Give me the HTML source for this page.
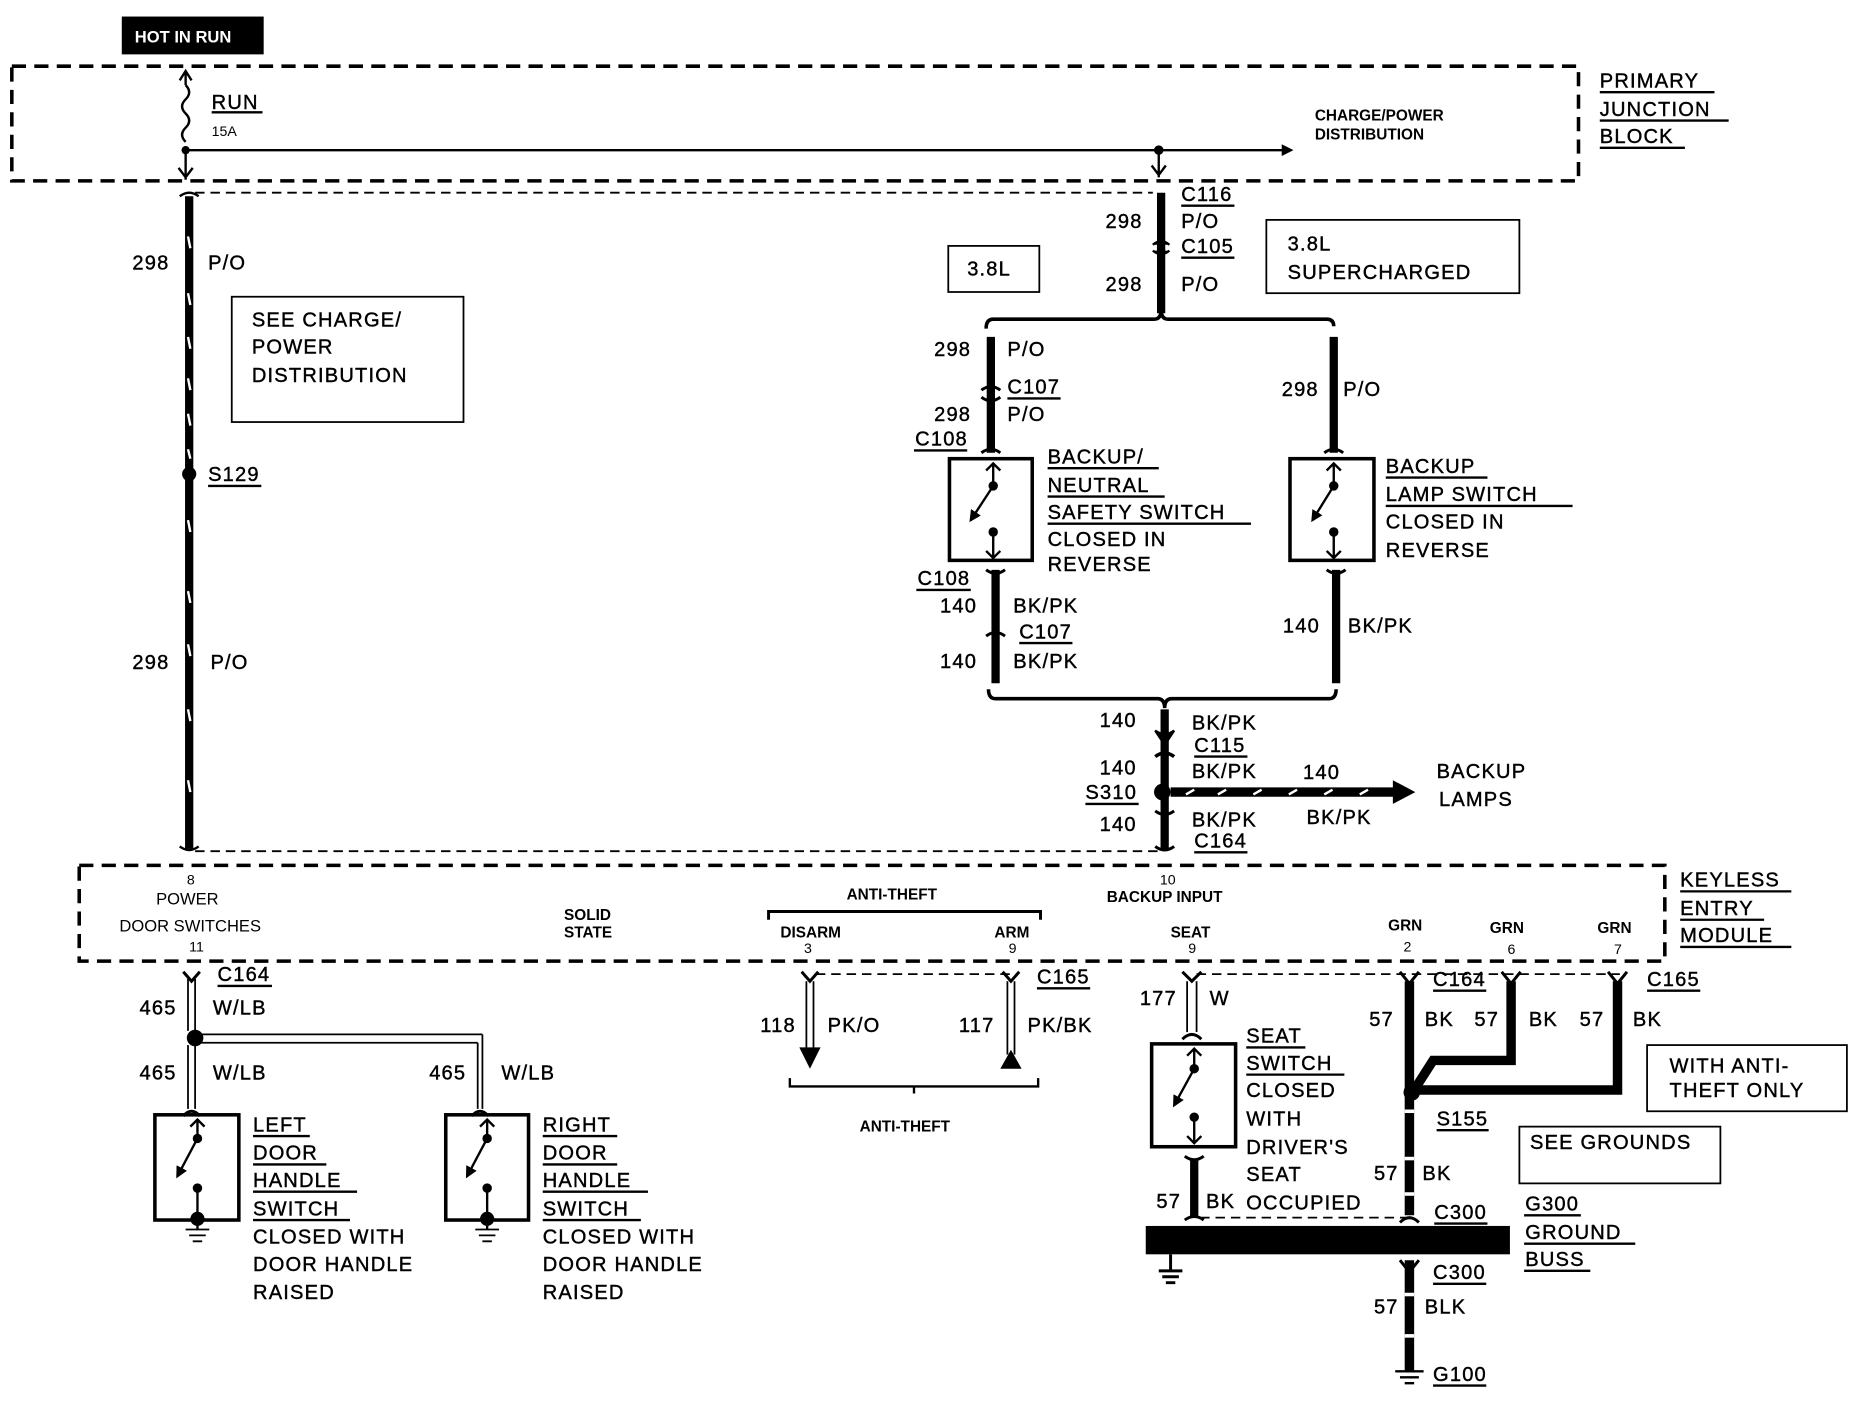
<!DOCTYPE html>
<html><head><meta charset="utf-8"><style>
html,body{margin:0;padding:0;background:#fff;}
svg{display:block;}
text{font-family:"Liberation Sans",sans-serif;fill:#000;}
.t{font-size:17px;letter-spacing:1px;stroke:#000;stroke-width:0.35px;}
.s{font-size:13px;font-weight:bold;}
</style></head><body>
<svg width="1854" height="1408" viewBox="0 0 1568 1191" preserveAspectRatio="none" xmlns="http://www.w3.org/2000/svg">
<defs>
<marker id="ah" markerWidth="10" markerHeight="10" refX="8" refY="5" orient="auto" markerUnits="userSpaceOnUse"><path d="M0,0 L10,5 L0,10 z" fill="#000"/></marker>
</defs>
<rect width="1568" height="1191" fill="#fff"/>
<rect x="103" y="14" width="120" height="32" fill="#000"/>
<text x="114" y="36" style="font-size:14px;fill:#fff" font-weight="bold">HOT IN RUN</text>
<rect x="10" y="56" width="1325" height="97" fill="none" stroke="#000" stroke-width="3" stroke-dasharray="12,7"/>
<path d="M157,62 V72 M152,68 L157,60 L162,68" stroke="#000" stroke-width="2" fill="none"/>
<path d="M157,72 q6,6 0,12 q-6,6 0,12 q6,6 0,12 q-6,6 0,12" stroke="#000" stroke-width="2" fill="none"/>
<circle cx="157" cy="127" r="3.5"/>
<path d="M157,127 V152 M151,142 L157,150 L163,142" stroke="#000" stroke-width="2" fill="none"/>
<line x1="157" y1="127" x2="1092" y2="127" stroke="#000" stroke-width="2" marker-end="url(#ah)"/>
<circle cx="980" cy="127" r="4"/>
<path d="M980,127 V150 M974,140 L980,148 L986,140" stroke="#000" stroke-width="2" fill="none"/>
<text x="179" y="92" class="t">RUN</text><line x1="179" y1="95" x2="222" y2="95" stroke="#000" stroke-width="2"/>
<text x="179" y="115" style="font-size:12px">15A</text>
<text x="1112" y="102" class="s">CHARGE/POWER</text>
<text x="1112" y="118" class="s">DISTRIBUTION</text>
<text x="1353" y="74" class="t">PRIMARY</text><line x1="1353" y1="78" x2="1450" y2="78" stroke="#000" stroke-width="2"/>
<text x="1353" y="98" class="t">JUNCTION</text><line x1="1353" y1="102" x2="1462" y2="102" stroke="#000" stroke-width="2"/>
<text x="1353" y="121" class="t">BLOCK</text><line x1="1353" y1="125" x2="1425" y2="125" stroke="#000" stroke-width="2"/>
<line x1="165" y1="163" x2="975" y2="163" stroke="#000" stroke-width="1.5" stroke-dasharray="8,5"/>
<line x1="165" y1="720" x2="980" y2="720" stroke="#000" stroke-width="1.5" stroke-dasharray="8,5"/>
<line x1="160" y1="166" x2="160" y2="718" stroke="#000" stroke-width="7"/>
<g stroke="#fff" stroke-width="2">
<line x1="159" y1="200" x2="161" y2="210"/><line x1="159" y1="248" x2="161" y2="258"/><line x1="159" y1="285" x2="161" y2="295"/><line x1="159" y1="320" x2="161" y2="330"/><line x1="159" y1="350" x2="161" y2="360"/><line x1="159" y1="380" x2="161" y2="388"/>
<line x1="159" y1="440" x2="161" y2="450"/><line x1="159" y1="500" x2="161" y2="510"/><line x1="159" y1="545" x2="161" y2="555"/><line x1="159" y1="600" x2="161" y2="610"/><line x1="159" y1="660" x2="161" y2="670"/>
</g>
<circle cx="160" cy="401" r="6"/>
<path d="M152,166 q8,-6 16,0 M152,716 q8,6 16,0" stroke="#000" stroke-width="2" fill="none"/>
<text x="112" y="228" class="t">298</text><text x="176" y="228" class="t">P/O</text>
<text x="112" y="566" class="t">298</text><text x="178" y="566" class="t">P/O</text>
<text x="176" y="407" class="t">S129</text><line x1="176" y1="411" x2="221" y2="411" stroke="#000" stroke-width="2"/>
<rect x="196" y="251" width="196" height="106" fill="none" stroke="#000" stroke-width="1.5"/>
<text x="213" y="276" class="t">SEE CHARGE/</text>
<text x="213" y="299" class="t">POWER</text>
<text x="213" y="323" class="t">DISTRIBUTION</text>
<line x1="982" y1="163" x2="982" y2="265" stroke="#000" stroke-width="7"/>
<path d="M975,207 q7,-6 14,0 M975,212 q7,6 14,0" stroke="#000" stroke-width="2" fill="#000"/>
<text x="999" y="170" class="t">C116</text><line x1="999" y1="174" x2="1044" y2="174" stroke="#000" stroke-width="2"/>
<text x="935" y="193" class="t">298</text><text x="999" y="193" class="t">P/O</text>
<text x="999" y="214" class="t">C105</text><line x1="999" y1="218" x2="1044" y2="218" stroke="#000" stroke-width="2"/>
<text x="935" y="246" class="t">298</text><text x="999" y="246" class="t">P/O</text>
<rect x="802" y="208" width="77" height="39" fill="none" stroke="#000" stroke-width="1.5"/>
<text x="818" y="233" class="t">3.8L</text>
<rect x="1071" y="186" width="214" height="62" fill="none" stroke="#000" stroke-width="1.5"/>
<text x="1089" y="212" class="t">3.8L</text>
<text x="1089" y="236" class="t">SUPERCHARGED</text>
<path d="M834,278 q0,-8 6,-8 H976 q6,0 6,-8 q0,8 6,8 H1122 q6,0 6,6" stroke="#000" stroke-width="3" fill="none"/>
<line x1="838" y1="285" x2="838" y2="383" stroke="#000" stroke-width="7"/>
<path d="M830,330 q8,-6 16,0 M830,336 q8,6 16,0 M830,383 q8,-6 16,0" stroke="#000" stroke-width="2.5" fill="none"/>
<text x="790" y="301" class="t">298</text><text x="852" y="301" class="t">P/O</text>
<text x="852" y="333" class="t">C107</text><line x1="852" y1="337" x2="897" y2="337" stroke="#000" stroke-width="2"/>
<text x="790" y="356" class="t">298</text><text x="852" y="356" class="t">P/O</text>
<text x="774" y="377" class="t">C108</text><line x1="773" y1="381" x2="818" y2="381" stroke="#000" stroke-width="2"/>
<rect x="803" y="388" width="70" height="86" fill="none" stroke="#000" stroke-width="3"/>
<path d="M840,392 V410 M834,398 L840,392 L846,398" stroke="#000" stroke-width="2" fill="none"/>
<circle cx="840" cy="411" r="4"/><line x1="840" y1="411" x2="821" y2="440" stroke="#000" stroke-width="2" marker-end="url(#ah)"/>
<circle cx="840" cy="450" r="4"/><path d="M840,450 V472 M834,466 L840,472 L846,466" stroke="#000" stroke-width="2" fill="none"/>
<text x="886" y="392" class="t">BACKUP/</text><line x1="886" y1="396" x2="980" y2="396" stroke="#000" stroke-width="2"/>
<text x="886" y="416" class="t">NEUTRAL</text><line x1="886" y1="420" x2="985" y2="420" stroke="#000" stroke-width="2"/>
<text x="886" y="439" class="t">SAFETY SWITCH</text><line x1="886" y1="443" x2="1058" y2="443" stroke="#000" stroke-width="2"/>
<text x="886" y="462" class="t">CLOSED IN</text>
<text x="886" y="483" class="t">REVERSE</text>
<line x1="842" y1="482" x2="842" y2="578" stroke="#000" stroke-width="7"/>
<path d="M834,482 q8,6 16,0 M834,538 q8,-6 16,0" stroke="#000" stroke-width="2.5" fill="none"/>
<text x="776" y="495" class="t">C108</text><line x1="775" y1="499" x2="821" y2="499" stroke="#000" stroke-width="2"/>
<text x="795" y="518" class="t">140</text><text x="857" y="518" class="t">BK/PK</text>
<text x="862" y="540" class="t">C107</text><line x1="862" y1="544" x2="907" y2="544" stroke="#000" stroke-width="2"/>
<text x="795" y="565" class="t">140</text><text x="857" y="565" class="t">BK/PK</text>
<line x1="1128" y1="285" x2="1128" y2="383" stroke="#000" stroke-width="7"/>
<path d="M1120,383 q8,-6 16,0" stroke="#000" stroke-width="2.5" fill="none"/>
<text x="1084" y="335" class="t">298</text><text x="1136" y="335" class="t">P/O</text>
<rect x="1091" y="388" width="71" height="86" fill="none" stroke="#000" stroke-width="3"/>
<path d="M1128,392 V410 M1122,398 L1128,392 L1134,398" stroke="#000" stroke-width="2" fill="none"/>
<circle cx="1128" cy="411" r="4"/><line x1="1128" y1="411" x2="1110" y2="440" stroke="#000" stroke-width="2" marker-end="url(#ah)"/>
<circle cx="1128" cy="450" r="4"/><path d="M1128,450 V472 M1122,466 L1128,472 L1134,466" stroke="#000" stroke-width="2" fill="none"/>
<text x="1172" y="400" class="t">BACKUP</text><line x1="1172" y1="404" x2="1258" y2="404" stroke="#000" stroke-width="2"/>
<text x="1172" y="424" class="t">LAMP SWITCH</text><line x1="1172" y1="428" x2="1330" y2="428" stroke="#000" stroke-width="2"/>
<text x="1172" y="447" class="t">CLOSED IN</text>
<text x="1172" y="471" class="t">REVERSE</text>
<line x1="1130" y1="482" x2="1130" y2="578" stroke="#000" stroke-width="7"/>
<path d="M1122,482 q8,6 16,0" stroke="#000" stroke-width="2.5" fill="none"/>
<text x="1085" y="535" class="t">140</text><text x="1140" y="535" class="t">BK/PK</text>
<path d="M836,583 q0,8 6,8 H979 q6,0 6,8 q0,-8 6,-8 H1124 q6,0 6,-8" stroke="#000" stroke-width="3" fill="none"/>
<line x1="985" y1="600" x2="985" y2="718" stroke="#000" stroke-width="7"/>
<path d="M977,618 q8,6 16,0 L985,630 z" fill="#000" stroke="#000" stroke-width="2"/>
<path d="M977,640 q8,-6 16,0" stroke="#000" stroke-width="3" fill="none"/>
<path d="M977,686 q8,6 16,0 M977,716 q8,6 16,0" stroke="#000" stroke-width="2.5" fill="none"/>
<circle cx="983" cy="670" r="7"/>
<line x1="990" y1="670" x2="1180" y2="670" stroke="#000" stroke-width="8"/>
<g stroke="#fff" stroke-width="2"><line x1="1003" y1="672" x2="1010" y2="668"/><line x1="1030" y1="672" x2="1037" y2="668"/><line x1="1060" y1="672" x2="1067" y2="668"/><line x1="1090" y1="672" x2="1097" y2="668"/><line x1="1120" y1="672" x2="1127" y2="668"/><line x1="1150" y1="672" x2="1157" y2="668"/></g>
<path d="M1178,660 L1197,670 L1178,680 z" fill="#000"/>
<text x="930" y="615" class="t">140</text><text x="1008" y="617" class="t">BK/PK</text>
<text x="1010" y="636" class="t">C115</text><line x1="1010" y1="640" x2="1055" y2="640" stroke="#000" stroke-width="2"/>
<text x="930" y="655" class="t">140</text><text x="1008" y="658" class="t">BK/PK</text>
<text x="1102" y="659" class="t">140</text>
<text x="918" y="676" class="t">S310</text><line x1="918" y1="680" x2="963" y2="680" stroke="#000" stroke-width="2"/>
<text x="930" y="703" class="t">140</text><text x="1008" y="699" class="t">BK/PK</text><text x="1105" y="697" class="t">BK/PK</text>
<text x="1010" y="717" class="t">C164</text><line x1="1010" y1="721" x2="1055" y2="721" stroke="#000" stroke-width="2"/>
<text x="1215" y="658" class="t">BACKUP</text>
<text x="1217" y="682" class="t">LAMPS</text>
<rect x="67" y="732" width="1341" height="81" fill="none" stroke="#000" stroke-width="3" stroke-dasharray="12,7"/>
<text x="158" y="748" style="font-size:12px">8</text>
<text x="132" y="765" style="font-size:14px">POWER</text>
<text x="101" y="788" style="font-size:14px">DOOR SWITCHES</text>
<text x="160" y="805" style="font-size:12px">11</text>
<text x="477" y="778" class="s">SOLID</text>
<text x="477" y="793" class="s">STATE</text>
<text x="716" y="761" class="s">ANTI-THEFT</text>
<path d="M650,778 V771 H880 V778" stroke="#000" stroke-width="2.5" fill="none"/>
<text x="660" y="793" class="s">DISARM</text><text x="680" y="806" style="font-size:12px">3</text>
<text x="841" y="793" class="s">ARM</text><text x="853" y="806" style="font-size:12px">9</text>
<text x="981" y="748" style="font-size:12px">10</text>
<text x="936" y="763" class="s">BACKUP INPUT</text>
<text x="990" y="793" class="s">SEAT</text><text x="1005" y="806" style="font-size:12px">9</text>
<text x="1174" y="787" class="s">GRN</text><text x="1187" y="805" style="font-size:12px">2</text>
<text x="1260" y="789" class="s">GRN</text><text x="1275" y="807" style="font-size:12px">6</text>
<text x="1351" y="789" class="s">GRN</text><text x="1365" y="807" style="font-size:12px">7</text>
<text x="1421" y="750" class="t">KEYLESS</text><line x1="1421" y1="754" x2="1515" y2="754" stroke="#000" stroke-width="2"/>
<text x="1421" y="774" class="t">ENTRY</text><line x1="1421" y1="778" x2="1492" y2="778" stroke="#000" stroke-width="2"/>
<text x="1421" y="797" class="t">MODULE</text><line x1="1421" y1="801" x2="1515" y2="801" stroke="#000" stroke-width="2"/>
<line x1="690" y1="824" x2="860" y2="824" stroke="#000" stroke-width="1.5" stroke-dasharray="8,5"/>
<line x1="1012" y1="824" x2="1370" y2="824" stroke="#000" stroke-width="1.5" stroke-dasharray="8,5"/>
<line x1="1015" y1="1030" x2="1190" y2="1030" stroke="#000" stroke-width="1.5" stroke-dasharray="8,5"/>
<g stroke="#000" stroke-width="1.5" fill="none">
<line x1="159" y1="828" x2="159" y2="872"/><line x1="165" y1="828" x2="165" y2="872"/>
<line x1="159" y1="884" x2="159" y2="938"/><line x1="165" y1="884" x2="165" y2="938"/>
<line x1="166" y1="875" x2="408" y2="875"/><line x1="166" y1="882" x2="404" y2="882"/>
<line x1="408" y1="875" x2="408" y2="938"/><line x1="404" y1="882" x2="404" y2="938"/>
</g>
<path d="M155,822 L162,830 L169,822 M155,944 q7,-8 14,0 M399,944 q7,-8 14,0" stroke="#000" stroke-width="2.5" fill="none"/>
<circle cx="165" cy="878" r="7"/>
<text x="184" y="830" class="t">C164</text><line x1="184" y1="834" x2="230" y2="834" stroke="#000" stroke-width="2"/>
<text x="118" y="858" class="t">465</text><text x="180" y="858" class="t">W/LB</text>
<text x="118" y="913" class="t">465</text><text x="180" y="913" class="t">W/LB</text>
<text x="363" y="913" class="t">465</text><text x="424" y="913" class="t">W/LB</text>
<rect x="131" y="943" width="71" height="89" fill="none" stroke="#000" stroke-width="3"/>
<path d="M167,947 V962 M161,953 L167,947 L173,953" stroke="#000" stroke-width="2" fill="none"/>
<circle cx="167" cy="963" r="4"/><line x1="167" y1="963" x2="150" y2="995" stroke="#000" stroke-width="2" marker-end="url(#ah)"/>
<circle cx="167" cy="1005" r="4"/><line x1="167" y1="1005" x2="167" y2="1040" stroke="#000" stroke-width="2"/>
<circle cx="167" cy="1031" r="6"/>
<path d="M157,1040 H177 M160,1045 H174 M163,1050 H171" stroke="#000" stroke-width="1.5"/>
<text x="214" y="957" class="t">LEFT</text><line x1="214" y1="961" x2="262" y2="961" stroke="#000" stroke-width="2"/>
<text x="214" y="981" class="t">DOOR</text><line x1="214" y1="985" x2="276" y2="985" stroke="#000" stroke-width="2"/>
<text x="214" y="1004" class="t">HANDLE</text><line x1="214" y1="1008" x2="302" y2="1008" stroke="#000" stroke-width="2"/>
<text x="214" y="1028" class="t">SWITCH</text><line x1="214" y1="1032" x2="296" y2="1032" stroke="#000" stroke-width="2"/>
<text x="214" y="1052" class="t">CLOSED WITH</text>
<text x="214" y="1075" class="t">DOOR HANDLE</text>
<text x="214" y="1099" class="t">RAISED</text>
<rect x="377" y="943" width="70" height="89" fill="none" stroke="#000" stroke-width="3"/>
<path d="M412,947 V962 M406,953 L412,947 L418,953" stroke="#000" stroke-width="2" fill="none"/>
<circle cx="412" cy="963" r="4"/><line x1="412" y1="963" x2="395" y2="995" stroke="#000" stroke-width="2" marker-end="url(#ah)"/>
<circle cx="412" cy="1005" r="4"/><line x1="412" y1="1005" x2="412" y2="1040" stroke="#000" stroke-width="2"/>
<circle cx="412" cy="1031" r="6"/>
<path d="M402,1040 H422 M405,1045 H419 M408,1050 H416" stroke="#000" stroke-width="1.5"/>
<text x="459" y="957" class="t">RIGHT</text><line x1="459" y1="961" x2="522" y2="961" stroke="#000" stroke-width="2"/>
<text x="459" y="981" class="t">DOOR</text><line x1="459" y1="985" x2="522" y2="985" stroke="#000" stroke-width="2"/>
<text x="459" y="1004" class="t">HANDLE</text><line x1="459" y1="1008" x2="548" y2="1008" stroke="#000" stroke-width="2"/>
<text x="459" y="1028" class="t">SWITCH</text><line x1="459" y1="1032" x2="542" y2="1032" stroke="#000" stroke-width="2"/>
<text x="459" y="1052" class="t">CLOSED WITH</text>
<text x="459" y="1075" class="t">DOOR HANDLE</text>
<text x="459" y="1099" class="t">RAISED</text>
<g stroke="#000" stroke-width="1.5" fill="none">
<line x1="682" y1="830" x2="682" y2="888"/><line x1="688" y1="830" x2="688" y2="888"/>
<line x1="852" y1="830" x2="852" y2="892"/><line x1="858" y1="830" x2="858" y2="892"/>
</g>
<path d="M678,822 L685,830 L692,822 M848,822 L855,830 L862,822" stroke="#000" stroke-width="2.5" fill="none"/>
<path d="M676,886 L685,904 L694,886 z" fill="#000"/>
<path d="M846,904 L855,888 L864,904 z" fill="#000"/>
<text x="877" y="832" class="t">C165</text><line x1="877" y1="836" x2="922" y2="836" stroke="#000" stroke-width="2"/>
<text x="643" y="873" class="t">118</text><text x="700" y="873" class="t">PK/O</text>
<text x="811" y="873" class="t">117</text><text x="869" y="873" class="t">PK/BK</text>
<path d="M668,912 V919 H878 V912 M773,919 V925" stroke="#000" stroke-width="2" fill="none"/>
<text x="727" y="957" class="s">ANTI-THEFT</text>
<g stroke="#000" stroke-width="1.5" fill="none">
<line x1="1004" y1="830" x2="1004" y2="873"/><line x1="1012" y1="830" x2="1012" y2="873"/>
</g>
<path d="M1000,822 L1008,830 L1016,822 M1000,879 q8,-8 16,0" stroke="#000" stroke-width="2.5" fill="none"/>
<text x="964" y="850" class="t">177</text><text x="1023" y="850" class="t">W</text>
<rect x="974" y="883" width="71" height="87" fill="none" stroke="#000" stroke-width="3"/>
<path d="M1010,887 V902 M1004,893 L1010,887 L1016,893" stroke="#000" stroke-width="2" fill="none"/>
<circle cx="1010" cy="904" r="4"/><line x1="1010" y1="904" x2="993" y2="935" stroke="#000" stroke-width="2" marker-end="url(#ah)"/>
<circle cx="1010" cy="945" r="4"/><path d="M1010,945 V967 M1004,961 L1010,967 L1016,961" stroke="#000" stroke-width="2" fill="none"/>
<line x1="1010" y1="980" x2="1010" y2="1030" stroke="#000" stroke-width="7"/>
<path d="M1002,978 q8,6 16,0 M1002,1032 q8,-6 16,0" stroke="#000" stroke-width="2.5" fill="none"/>
<text x="1054" y="882" class="t">SEAT</text><line x1="1054" y1="886" x2="1104" y2="886" stroke="#000" stroke-width="2"/>
<text x="1054" y="905" class="t">SWITCH</text><line x1="1054" y1="909" x2="1137" y2="909" stroke="#000" stroke-width="2"/>
<text x="1054" y="928" class="t">CLOSED</text>
<text x="1054" y="952" class="t">WITH</text>
<text x="1054" y="976" class="t">DRIVER'S</text>
<text x="1054" y="999" class="t">SEAT</text>
<text x="1054" y="1023" class="t">OCCUPIED</text>
<text x="978" y="1022" class="t">57</text><text x="1020" y="1022" class="t">BK</text>
<g stroke="#000" stroke-width="8" fill="none">
<line x1="1192" y1="830" x2="1192" y2="1028"/>
<path d="M1278,830 V897 H1212 L1196,922"/>
<path d="M1368,830 V922 H1200"/>
</g>
<g stroke="#fff" stroke-width="3"><line x1="1188" y1="940" x2="1196" y2="940"/><line x1="1188" y1="980" x2="1196" y2="980"/><line x1="1188" y1="1010" x2="1196" y2="1010"/></g>
<path d="M1184,822 L1192,832 L1200,822 M1270,822 L1278,832 L1286,822 M1360,822 L1368,832 L1376,822 M1184,1034 q8,-8 16,0" stroke="#000" stroke-width="2.5" fill="none"/>
<circle cx="1194" cy="924" r="7"/>
<text x="1212" y="834" class="t">C164</text><line x1="1212" y1="838" x2="1257" y2="838" stroke="#000" stroke-width="2"/>
<text x="1393" y="834" class="t">C165</text><line x1="1393" y1="838" x2="1438" y2="838" stroke="#000" stroke-width="2"/>
<text x="1158" y="868" class="t">57</text><text x="1205" y="868" class="t">BK</text>
<text x="1247" y="868" class="t">57</text><text x="1293" y="868" class="t">BK</text>
<text x="1336" y="868" class="t">57</text><text x="1381" y="868" class="t">BK</text>
<text x="1215" y="952" class="t">S155</text><line x1="1215" y1="956" x2="1259" y2="956" stroke="#000" stroke-width="2"/>
<text x="1162" y="998" class="t">57</text><text x="1203" y="998" class="t">BK</text>
<text x="1213" y="1031" class="t">C300</text><line x1="1213" y1="1035" x2="1258" y2="1035" stroke="#000" stroke-width="2"/>
<rect x="1393" y="884" width="169" height="56" fill="none" stroke="#000" stroke-width="1.5"/>
<text x="1412" y="907" class="t">WITH ANTI-</text>
<text x="1412" y="928" class="t">THEFT ONLY</text>
<rect x="1285" y="953" width="170" height="48" fill="none" stroke="#000" stroke-width="1.5"/>
<text x="1294" y="972" class="t">SEE GROUNDS</text>
<text x="1290" y="1024" class="t">G300</text><line x1="1289" y1="1028" x2="1337" y2="1028" stroke="#000" stroke-width="2"/>
<text x="1290" y="1048" class="t">GROUND</text><line x1="1289" y1="1052" x2="1383" y2="1052" stroke="#000" stroke-width="2"/>
<text x="1290" y="1071" class="t">BUSS</text><line x1="1289" y1="1075" x2="1345" y2="1075" stroke="#000" stroke-width="2"/>
<rect x="969" y="1037" width="308" height="24" fill="#000"/>
<path d="M990,1061 V1075 M980,1075 H1000 M983,1080 H997 M986,1085 H994" stroke="#000" stroke-width="2.5"/>
<line x1="1192" y1="1066" x2="1192" y2="1160" stroke="#000" stroke-width="8"/>
<path d="M1184,1066 L1192,1076 L1200,1066" stroke="#000" stroke-width="2.5" fill="none"/>
<g stroke="#fff" stroke-width="3"><line x1="1188" y1="1095" x2="1196" y2="1095"/><line x1="1188" y1="1130" x2="1196" y2="1130"/></g>
<path d="M1180,1160 H1204 M1184,1165 H1200 M1188,1170 H1196" stroke="#000" stroke-width="2"/>
<text x="1212" y="1082" class="t">C300</text><line x1="1212" y1="1086" x2="1257" y2="1086" stroke="#000" stroke-width="2"/>
<text x="1162" y="1111" class="t">57</text><text x="1205" y="1111" class="t">BLK</text>
<text x="1212" y="1168" class="t">G100</text><line x1="1212" y1="1172" x2="1257" y2="1172" stroke="#000" stroke-width="2"/>
</svg>
</body></html>
